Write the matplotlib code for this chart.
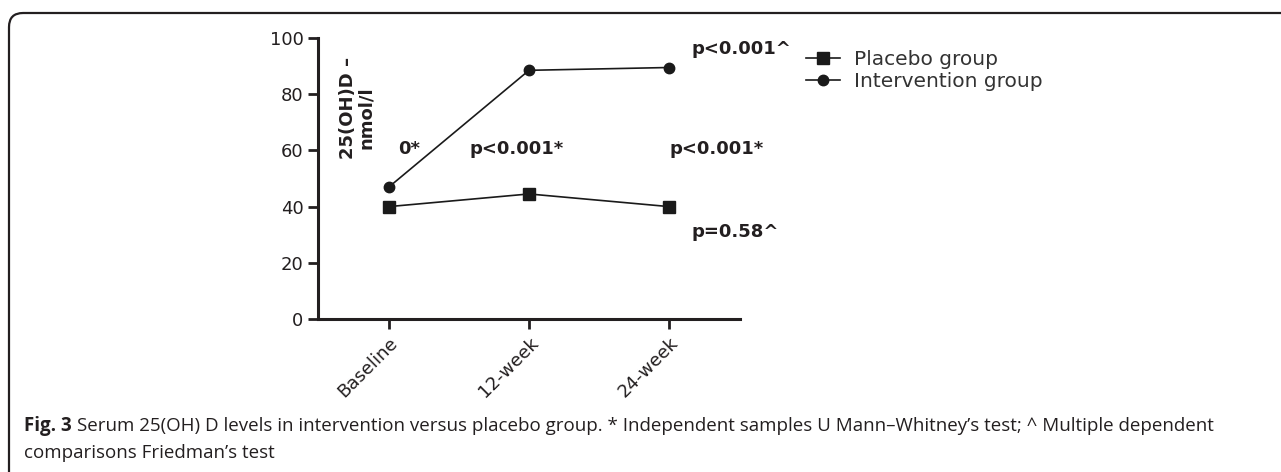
import matplotlib
matplotlib.use("Agg")
import matplotlib.pyplot as plt
from matplotlib.patches import FancyBboxPatch

plt.rcParams["font.family"] = "DejaVu Sans"

# data
timepoints = ["Baseline", "12-week", "24-week"]
placebo = [40, 44.5, 40]
intervention = [47, 88.5, 89.5]
yticks = [0, 20, 40, 60, 80, 100]

W, H = 1281, 472
fig = plt.figure(figsize=(W / 100, H / 100), dpi=100)

# rounded frame (only top and left edges visible)
frame = FancyBboxPatch((9 / W, -0.2), 1.2, (H - 13) / H + 0.2,
                       boxstyle="round,pad=0,rounding_size=0.011",
                       transform=fig.transFigure, fill=False,
                       edgecolor="#231f20", linewidth=1.6,
                       mutation_aspect=W / H)
fig.patches.append(frame)

ax = fig.add_axes([318 / W, (H - 319) / H, (740 - 318) / W, 281 / H])
x = range(len(timepoints))
ax.plot(x, placebo, color="#1a1a1a", lw=1.2, marker="s", ms=9,
        label="Placebo group")
ax.plot(x, intervention, color="#1a1a1a", lw=1.2, marker="o", ms=7.5,
        label="Intervention group")

ax.set_xlim(-0.507, 2.507)
ax.set_ylim(0, 100)
ax.set_yticks(yticks)
ax.set_xticks(list(x))
ax.set_xticklabels(timepoints, rotation=45, ha="right", rotation_mode="anchor",
                   fontsize=13, color="#231f20")
ax.tick_params(axis="y", labelsize=13, labelcolor="#231f20")
ax.tick_params(width=2, length=7, color="#231f20")
for s in ["top", "right"]:
    ax.spines[s].set_visible(False)
for s in ["left", "bottom"]:
    ax.spines[s].set_linewidth(2.2)
    ax.spines[s].set_color("#231f20")

bold = dict(fontsize=13, fontweight="bold", color="#231f20", va="center")
ax.text(-0.29, 75, "25(OH)D –", rotation=90, ha="center", **bold)
ax.text(-0.165, 71.5, "nmol/l", rotation=90, ha="center", **bold)
ax.text(0.064, 60.5, "0*", ha="left", **bold)
ax.text(0.91, 60.5, "p<0.001*", ha="center", **bold)
ax.text(2.34, 60.5, "p<0.001*", ha="center", **bold)
ax.text(2.16, 96, "p<0.001^", ha="left", **bold)
ax.text(2.16, 31, "p=0.58^", ha="left", **bold)

fig.legend(loc="upper left", bbox_to_anchor=(796 / W, 1 - 40 / H),
           frameon=False, fontsize=14.5, handlelength=1.7, handletextpad=0.7,
           labelspacing=0.15, borderpad=0, labelcolor="#333333")

# caption
cap = dict(fontsize=13.5, family="Open Sans", color="#231f20", va="baseline")
t1 = fig.text(24 / W, 1 - 431 / H, "Fig. 3", fontweight="bold", **cap)
fig.canvas.draw()
bb = t1.get_window_extent()
fig.text((bb.x1 + 5) / W, 1 - 431 / H,
         "Serum 25(OH) D levels in intervention versus placebo group. * Independent samples "
         "U Mann–Whitney’s test; ^ Multiple dependent", **cap)
fig.text(24 / W, 1 - 458 / H, "comparisons Friedman’s test", **cap)

fig.savefig("out.png", dpi=100)
